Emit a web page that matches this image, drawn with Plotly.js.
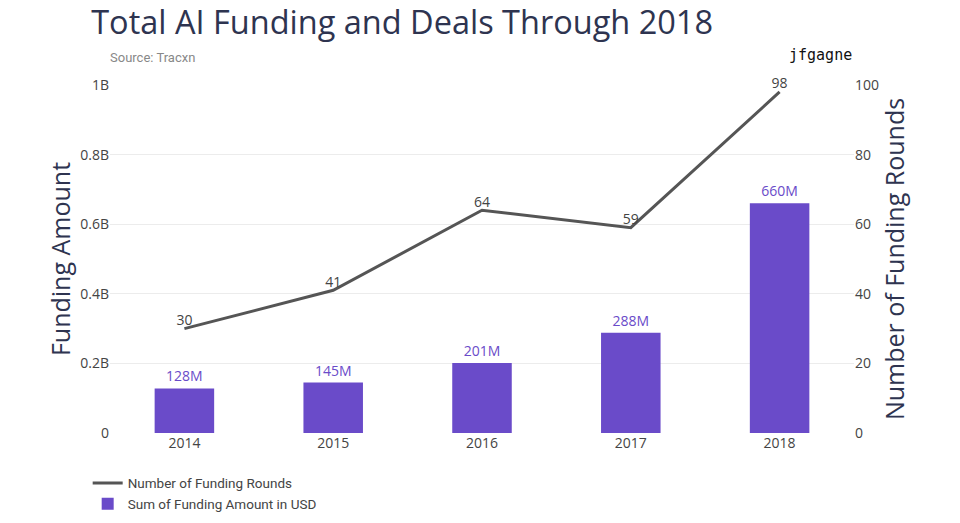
<!DOCTYPE html>
<html><head><meta charset="utf-8">
<script src="https://cdn.plot.ly/plotly-3.0.1.min.js"></script>
<style>html,body{margin:0;padding:0;background:#fff}</style>
</head><body>
<div id="chart" style="width:960px;height:523px"></div>
<script>
const years = ['2014','2015','2016','2017','2018'];
const fundingUSD = [128e6, 145e6, 201e6, 288e6, 660e6];
const fundingLabels = ['128M','145M','201M','288M','660M'];
const fundingRounds = [30, 41, 64, 59, 98];
const leftTickVals = [0, 0.2e9, 0.4e9, 0.6e9, 0.8e9, 1e9];
const leftTickText = ['0','0.2B','0.4B','0.6B','0.8B','1B'];

const traces = [
  {
    type: 'scatter', mode: 'lines+text', name: 'Number of Funding Rounds',
    x: years, y: fundingRounds, yaxis: 'y2',
    text: fundingRounds.map(String), textposition: 'top center',
    textfont: {family: 'Open Sans', size: 14, color: '#444'},
    line: {color: '#555555', width: 3},
    cliponaxis: false
  },
  {
    type: 'bar', name: 'Sum of Funding Amount in USD',
    x: years, y: fundingUSD, width: 0.4,
    text: fundingLabels, textposition: 'outside',
    textfont: {family: 'Open Sans', size: 14, color: '#6a4bc9'},
    marker: {color: '#6a4bc9'},
    cliponaxis: false
  }
];

const layout = {
  width: 960, height: 523,
  margin: {l: 110, r: 106, t: 85, b: 90, autoexpand: false},
  paper_bgcolor: '#fff', plot_bgcolor: '#fff',
  font: {family: 'Open Sans', color: '#444', size: 14},
  title: {text: 'Total AI Funding and Deals Through 2018', x: 0.095, xanchor: 'left', y: 0.956, yanchor: 'middle',
          font: {family: 'Open Sans', size: 32.5, color: '#2e3450'}},
  xaxis: {type: 'category', showgrid: false, zeroline: false, showline: false, ticks: '',
          tickfont: {size: 14, color: '#444'}},
  yaxis: {range: [0, 1e9], tickvals: leftTickVals, ticktext: leftTickText,
          gridcolor: '#ececec', zeroline: false, showline: false, ticks: '',
          tickfont: {size: 14, color: '#444'},
          title: {text: 'Funding Amount', font: {size: 25, color: '#2e3450'}, standoff: 2}},
  yaxis2: {range: [0, 100], dtick: 20, overlaying: 'y', side: 'right',
           showgrid: false, zeroline: false, showline: false, ticks: '',
           tickfont: {size: 14, color: '#444'},
           title: {text: 'Number of Funding Rounds', font: {size: 25, color: '#2e3450'}, standoff: 8}},
  showlegend: true,
  legend: {orientation: 'v', x: -0.03, xanchor: 'left', y: -0.1, yanchor: 'top',
           font: {family: 'Roboto', size: 13.5, color: '#444'}, traceorder: 'normal', tracegroupgap: 0},
  bargap: 0.6,
  annotations: [
    {text: 'Source: Tracxn', xref: 'paper', yref: 'paper', x: -0.003, y: 1.08, xanchor: 'left', yanchor: 'middle',
     showarrow: false, font: {family: 'Roboto', size: 13, color: '#888'}},
    {text: 'jfgagne', xref: 'paper', yref: 'paper', x: 0.955, y: 1.085, xanchor: 'center', yanchor: 'middle',
     showarrow: false, font: {family: 'DejaVu Sans Mono', size: 15, color: '#111'}}
  ]
};

Plotly.newPlot('chart', traces, layout, {displayModeBar: false, responsive: false});
</script>
</body></html>
